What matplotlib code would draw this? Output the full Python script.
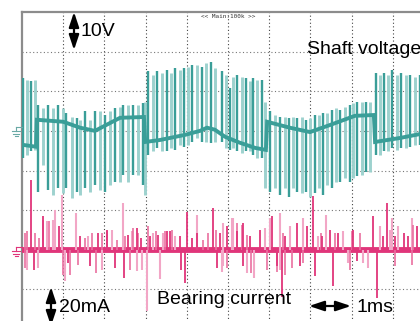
import matplotlib
matplotlib.use("Agg")
import matplotlib.pyplot as plt
import numpy as np

# ---------------- data (time in ms, shaft voltage in V, bearing current in mA) -------------
# slow baseline of the shaft-voltage trace
shaft_base_t = [0.0, 0.34, 0.36, 1.0, 1.41, 1.77, 2.01, 2.38, 2.96, 2.99, 3.35, 3.96, 4.32,
                4.49, 4.68, 4.93, 5.29, 5.66, 5.92, 5.95, 6.5, 6.99, 7.48, 8.08, 8.54, 8.57,
                9.17, 9.66, 10.0]
shaft_base_v = [-3.5, -4.0, 2.8, 2.3, 0.8, 0.0, 1.3, 3.3, 3.5, -2.8, -2.3, -1.0, 0.0,
                0.8, 0.3, -1.5, -3.0, -4.3, -4.8, 2.3, 0.8, -0.3, 1.5, 3.8, 4.0, -2.8,
                -1.8, -0.8, -0.3]

# switching spikes of the shaft voltage: time, top, bottom
shaft_spike_t = [0.02, 0.11, 0.23, 0.32, 0.40, 0.52, 0.64, 0.76, 0.88, 0.99, 1.08, 1.21, 1.33,
                 1.41, 1.53, 1.65, 1.77, 1.89, 2.01, 2.14, 2.26, 2.38, 2.46, 2.58, 2.70, 2.82,
                 2.93, 2.99, 3.07, 3.19, 3.27, 3.39, 3.51, 3.61, 3.71, 3.83, 3.93, 4.04, 4.13,
                 4.24, 4.36, 4.47, 4.58, 4.68, 4.85, 4.95, 5.05, 5.13, 5.23, 5.33, 5.44, 5.53,
                 5.61, 5.71, 5.82, 5.90, 6.02, 6.14, 6.26, 6.38, 6.47, 6.57, 6.67, 6.79, 6.89,
                 6.99, 7.11, 7.22, 7.31, 7.41, 7.52, 7.62, 7.72, 7.84, 7.95, 8.04, 8.14, 8.25,
                 8.35, 8.45, 8.59, 8.69, 8.79, 8.89, 8.99, 9.09, 9.21, 9.32, 9.42, 9.54, 9.65]
shaft_spike_top = [13.3, 12.9, 12.5, 12.9, 6.6, 5.7, 6.6, 5.7, 6.6, 5.7, 4.5, 3.6, 3.2,
                   2.8, 4.9, 2.8, 4.9, 4.9, 4.0, 4.9, 5.7, 6.1, 6.6, 6.6, 6.6, 6.6,
                   7.0, 7.4, 15.0, 14.1, 15.0, 14.6, 15.4, 14.6, 15.8, 15.4, 15.8, 16.2, 16.7,
                   16.7, 16.2, 17.1, 17.5, 15.8, 15.0, 14.1, 10.8, 13.7, 14.1, 13.7, 13.3, 12.5,
                   13.3, 12.9, 12.9, 7.4, 4.9, 4.0, 3.6, 3.6, 3.2, 3.6, 3.2, 3.6, 2.8,
                   3.2, 4.0, 4.0, 4.5, 4.5, 5.3, 5.7, 5.3, 6.1, 6.6, 7.0, 7.4, 7.4,
                   7.4, 7.4, 14.6, 14.1, 14.6, 14.1, 15.4, 14.1, 14.6, 14.1, 14.1, 13.7, 14.1]
shaft_spike_bot = [-6.9, -6.1, -5.2, -4.8, -15.3, -8.6, -14.9, -16.2, -14.5, -15.7, -14.5, -17.0, -15.3,
                   -16.2, -14.5, -15.3, -13.6, -14.9, -15.3, -13.6, -12.8, -12.8, -11.1, -12.8, -11.1, -11.1,
                   -13.6, -16.2, -6.1, -5.2, -4.4, -5.2, -5.2, -4.4, -4.8, -3.5, -4.0, -3.5, -2.7,
                   -1.9, -2.7, -2.7, -3.1, -2.7, -2.7, -4.4, -4.8, -4.4, -5.2, -5.6, -5.2, -5.2,
                   -6.1, -6.9, -6.9, -14.5, -15.3, -14.5, -16.2, -14.5, -16.6, -14.5, -15.3, -15.7, -15.3,
                   -16.6, -15.7, -14.5, -16.2, -13.6, -14.5, -12.8, -12.8, -12.0, -12.8, -12.0, -11.5, -11.1,
                   -10.3, -10.3, -6.1, -6.1, -5.2, -5.2, -4.4, -4.8, -4.4, -4.4, -4.0, -3.5, -3.5]

# bearing-current spikes (dark strokes, light strokes, smaller mid-tone strokes)
bear_dark_t = [0.23, 0.28, 0.52, 0.91, 1.12, 1.41, 1.65, 1.85, 2.06, 2.26, 2.48, 2.58, 2.78,
               2.90, 3.11, 3.31, 3.51, 3.59, 3.83, 3.87, 3.96, 4.00, 4.12, 4.24, 4.64, 4.73,
               4.81, 4.97, 5.21, 5.37, 5.37, 5.53, 5.78, 6.06, 6.18, 6.30, 6.38, 6.67, 6.75,
               6.91, 7.07, 7.11, 7.27, 7.48, 7.56, 7.68, 8.04, 8.12, 8.53, 8.61, 8.77, 8.85,
               9.05, 9.26, 9.38, 9.58]
bear_dark_ma = [35.3, -10.1, 16.8, 11.8, -6.7, 6.7, -8.4, 8.4, 10.1, -9.3, -14.3, 7.6, 10.9,
                5.9, 6.7, 7.6, 9.3, 9.3, 6.7, -10.0, -16.8, 19.0, 5.9, 8.4, 21.0, -9.3,
                8.4, 11.8, 9.3, 13.5, -8.4, 6.7, 10.1, 16.8, -8.4, -23.6, 6.7, 13.5, -8.4,
                11.8, 26.9, -13.5, 6.7, 10.1, -18.5, 8.4, 10.1, -5.9, 16.8, -24.4, 6.7, 23.6,
                6.7, 8.4, 6.7, 11.8]
bear_light_t = [0.11, 0.40, 0.60, 0.76, 0.80, 0.96, 1.04, 1.31, 1.61, 1.93, 2.18, 2.44, 2.66,
                2.80, 2.92, 3.03, 3.19, 3.35, 3.43, 3.71, 4.25, 4.85, 4.89, 4.89, 5.10, 5.13,
                5.45, 5.62, 5.90, 6.02, 6.26, 6.26, 6.50, 6.83, 7.19, 7.39, 7.80, 7.92, 8.28,
                8.41, 8.69, 8.93, 8.97, 9.13, 9.46]
bear_light_ma = [-10.1, -9.3, 14.3, 15.1, 20.2, 27.8, -16.0, 18.5, 6.7, -10.1, 10.1, 23.6, 9.3,
                 -10.9, -10.1, -31.1, 8.4, -15.0, 8.4, 6.7, 17.7, -11.0, 13.5, -8.4, 16.0, 16.0,
                 -11.8, -14.3, 10.9, 16.0, 18.5, -10.1, 11.8, 16.0, 6.7, 17.7, 9.3, -6.7, -6.7,
                 -9.3, 11.8, 10.1, 16.0, 11.8, 16.0]
bear_small_t = [0.07, 0.07, 0.13, 0.32, 0.42, 0.50, 0.66, 1.00, 1.17, 1.37, 1.53, 1.69, 1.80,
                1.93, 2.07, 2.30, 2.50, 2.62, 2.70, 2.82, 3.07, 3.25, 3.47, 3.65, 4.40, 4.52,
                4.72, 4.97, 5.21, 5.33, 5.45, 5.57, 5.94, 6.18, 6.34, 6.38, 6.55, 6.83, 7.25,
                7.60, 7.96, 8.00, 8.20, 9.06, 9.46, 9.50]
bear_small_ma = [8.4, -9.3, 9.3, 8.4, 5.9, 15.1, 14.3, -12.6, -12.6, -7.6, 5.9, 8.4, -11.8,
                 8.4, 9.3, 5.0, 6.7, -10.1, 10.9, 8.4, 11.8, 9.3, 9.3, 10.1, 5.0, 8.4,
                 10.1, -9.3, 13.5, 12.6, 7.6, -11.8, -10.1, -11.0, 8.4, -12.6, -9.3, -6.7, 8.4,
                 8.4, -10.1, 9.3, 8.4, -8.4, -7.6, 12.6]

# ---------------- figure ---------------------------------------------------------------
W, H = 420, 321
fig = plt.figure(figsize=(W / 100, H / 100), dpi=100)
fig.patch.set_facecolor("white")

# the scope screen: 10 x 8 divisions, its right and bottom edge are cut off by the crop
ax = fig.add_axes([22 / W, (H - 329) / H, 412 / W, 317 / H])
ax.set_xlim(0, 10)
ax.set_ylim(-4, 4)
ax.set_xticks([])
ax.set_yticks([])
for s in ("right", "bottom"):
    ax.spines[s].set_visible(False)
for s in ("left", "top"):
    ax.spines[s].set_color("#8c8c8c")
    ax.spines[s].set_linewidth(1.6)

for xg in range(1, 10):
    ax.axvline(xg, color="#444444", lw=0.8, ls=(0, (1, 2.2)), zorder=1)
for yg in range(-3, 4):
    ax.axhline(yg, color="#777777", lw=0.8, ls=(0, (1, 2.2)), zorder=1)

TEAL_D = "#3a9e98"
TEAL_L = "#9dd2ce"
PINK_D = "#e0357a"
PINK_M = "#ea6fa0"
PINK_L = "#f2a6c6"

# shaft voltage: 10 V/div, ground at +1 div; strokes alternate light / dark
v_off, v_scale = 1.0, 10.0
st = np.array(shaft_spike_t)
sv_top = v_off + np.array(shaft_spike_top) / v_scale
sv_bot = v_off + np.array(shaft_spike_bot) / v_scale
ax.vlines(st[1::2], sv_bot[1::2], sv_top[1::2], color=TEAL_L, lw=2.1, zorder=3)
ax.vlines(st[0::2], sv_bot[0::2], sv_top[0::2], color=TEAL_D, lw=1.7, zorder=4)
ax.plot(shaft_base_t, v_off + np.array(shaft_base_v) / v_scale, color=TEAL_D, lw=2.8,
        zorder=5, solid_joinstyle="miter")

# bearing current: 20 mA/div, ground at -2 div
i_off, i_scale = -2.0, 20.0
ax.axhline(i_off, color=PINK_D, lw=4.2, zorder=5)
ax.vlines(bear_light_t, i_off, i_off + np.array(bear_light_ma) / i_scale, color=PINK_L, lw=1.5, zorder=6)
ax.vlines(bear_small_t, i_off, i_off + np.array(bear_small_ma) / i_scale, color=PINK_M, lw=1.2, zorder=6)
ax.vlines(bear_dark_t, i_off, i_off + np.array(bear_dark_ma) / i_scale, color=PINK_D, lw=1.3, zorder=7)


def fx(px):
    return px / W


def fy(py):
    return 1 - py / H


FONT = "Liberation Sans"

# ground markers at the left of the screen
for gy, col in ((131, "#6aa9a5"), (251, PINK_D)):
    fig.add_artist(plt.Line2D([fx(16), fx(16)], [fy(gy - 4), fy(gy)], color=col, lw=0.8))
    for k, hw in enumerate((4, 2.8, 1.5)):
        yy = gy + k * 2.5
        fig.add_artist(plt.Line2D([fx(16 - hw), fx(16 + hw)], [fy(yy), fy(yy)], color=col, lw=0.8))
    fig.add_artist(plt.Line2D([fx(16), fx(22)], [fy(gy - 4), fy(gy - 4)], color=col, lw=0.8))

arrow_style = "<|-|>,head_length=0.9,head_width=0.3"
# 10 V scale arrow
ax.annotate("", xy=(fx(74), fy(12)), xytext=(fx(74), fy(50)), xycoords="figure fraction",
            textcoords="figure fraction",
            arrowprops=dict(arrowstyle=arrow_style, color="black", lw=1.6, mutation_scale=10,
                            shrinkA=0, shrinkB=0))
fig.text(fx(81), fy(32), "10V", fontsize=14, family=FONT, va="center", ha="left")

# 20 mA scale arrow
ax.annotate("", xy=(fx(51), fy(287)), xytext=(fx(51), fy(326)), xycoords="figure fraction",
            textcoords="figure fraction",
            arrowprops=dict(arrowstyle=arrow_style, color="black", lw=1.6, mutation_scale=10,
                            shrinkA=0, shrinkB=0))
fig.text(fx(59), fy(307), "20mA", fontsize=14, family=FONT, va="center", ha="left")

# 1 ms time arrow
ax.annotate("", xy=(fx(309), fy(306)), xytext=(fx(351), fy(306)), xycoords="figure fraction",
            textcoords="figure fraction",
            arrowprops=dict(arrowstyle=arrow_style, color="black", lw=1.6, mutation_scale=10,
                            shrinkA=0, shrinkB=0))
fig.text(fx(356), fy(308), "1ms", fontsize=14, family=FONT, va="center", ha="left")

fig.text(fx(307), fy(49), "Shaft voltage", fontsize=14, family=FONT, va="center", ha="left")
fig.text(fx(157), fy(300), "Bearing current", fontsize=14, family=FONT, va="center", ha="left")
fig.text(fx(228), fy(17), "<< Main:100k >>", fontsize=4.3, family="DejaVu Sans Mono",
         va="center", ha="center", color="#333333")

fig.savefig("out.png", dpi=100, facecolor="white")
